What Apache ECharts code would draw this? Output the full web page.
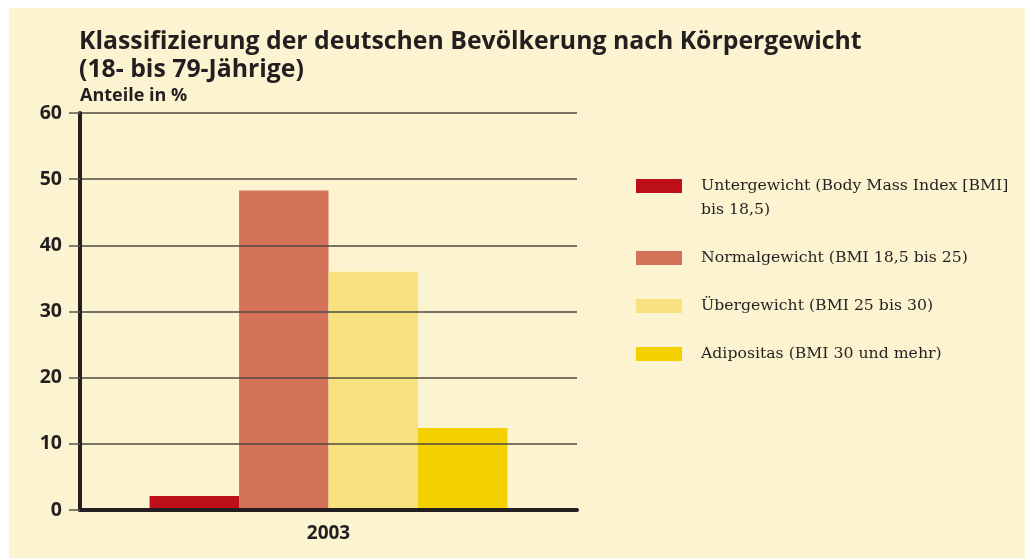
<!DOCTYPE html>
<html>
<head>
<meta charset="utf-8">
<script src="https://cdn.jsdelivr.net/npm/echarts@6/dist/echarts.min.js"></script>
<style>
  html, body { margin: 0; padding: 0; background: #fff; }
  #chart { width: 1025px; height: 558px; }
</style>
</head>
<body>
<div id="chart"></div>
<script>
const categories = ["2003"];
const seriesNames = [
  "Untergewicht (Body Mass Index [BMI]\nbis 18,5)",
  "Normalgewicht (BMI 18,5 bis 25)",
  "Übergewicht (BMI 25 bis 30)",
  "Adipositas (BMI 30 und mehr)"
];
const seriesValues = [[2.1], [48.3], [36.0], [12.4]];
const colors = ["#bd0f1a", "#d5725a", "#f8e17f", "#f4d000"];
const yTicks = [0, 10, 20, 30, 40, 50, 60];

// top of each legend box (icon top minus half the extra text height)
const legendTops = [150, 246, 294, 342];
const textColor = "#231f20";

const chart = echarts.init(document.getElementById("chart"));

const option = {
  backgroundColor: "#ffffff",
  animation: false,
  graphic: [
    {
      type: "rect",
      z: -10,
      shape: { x: 9, y: 8, width: 1016, height: 550 },
      style: { fill: "#fcf3d0" }
    }
  ],
  title: {
    text: "Klassifizierung der deutschen Bevölkerung nach Körpergewicht\n(18- bis 79-Jährige)",
    left: 79,
    top: 28,
    padding: 0,
    textStyle: {
      fontFamily: "Open Sans",
      fontWeight: "bold",
      fontSize: 24.8,
      lineHeight: 28,
      color: textColor
    }
  },
  legend: seriesNames.map((name, i) => ({
    data: [name],
    orient: "vertical",
    left: 636,
    top: legendTops[i],
    padding: 0,
    itemWidth: 46,
    itemHeight: 14,
    icon: "rect",
    selectedMode: false,
    // a leading empty line keeps the first text line level with the icon
    formatter: (n) => (n.indexOf("\n") >= 0 ? "\n" + n : n),
    textStyle: {
      fontFamily: "DejaVu Serif",
      fontSize: 15.7,
      lineHeight: 24,
      color: textColor,
      padding: [0, 0, 0, 14]
    }
  })),
  grid: { left: 80, right: 448, top: 113, bottom: 48 },
  xAxis: {
    type: "category",
    data: categories,
    z: 3,
    axisLine: { lineStyle: { color: textColor, width: 4 } },
    axisTick: { length: 11, lineStyle: { color: "#5a5550", width: 2 } },
    axisLabel: {
      margin: 14,
      fontFamily: "Open Sans",
      fontWeight: "bold",
      fontSize: 19,
      color: textColor
    }
  },
  yAxis: {
    type: "value",
    min: yTicks[0],
    max: yTicks[yTicks.length - 1],
    interval: 10,
    z: 3,
    name: "Anteile in %",
    nameLocation: "end",
    nameGap: 8,
    nameTextStyle: {
      align: "left",
      fontFamily: "Open Sans",
      fontWeight: "bold",
      fontSize: 18,
      color: textColor
    },
    axisLine: { show: true, lineStyle: { color: textColor, width: 4 } },
    axisTick: { show: true, length: 11, lineStyle: { color: "#5a5550", width: 1.5 } },
    splitLine: { lineStyle: { color: "#4f4a45", width: 1.5 } },
    axisLabel: {
      margin: 18,
      fontFamily: "Open Sans",
      fontWeight: "bold",
      fontSize: 19.5,
      color: textColor
    }
  },
  series: seriesNames.map((name, i) => ({
    name: name,
    type: "bar",
    data: seriesValues[i],
    barGap: 0,
    barCategoryGap: "28%",
    itemStyle: { color: colors[i] }
  }))
};

chart.setOption(option);
</script>
</body>
</html>
